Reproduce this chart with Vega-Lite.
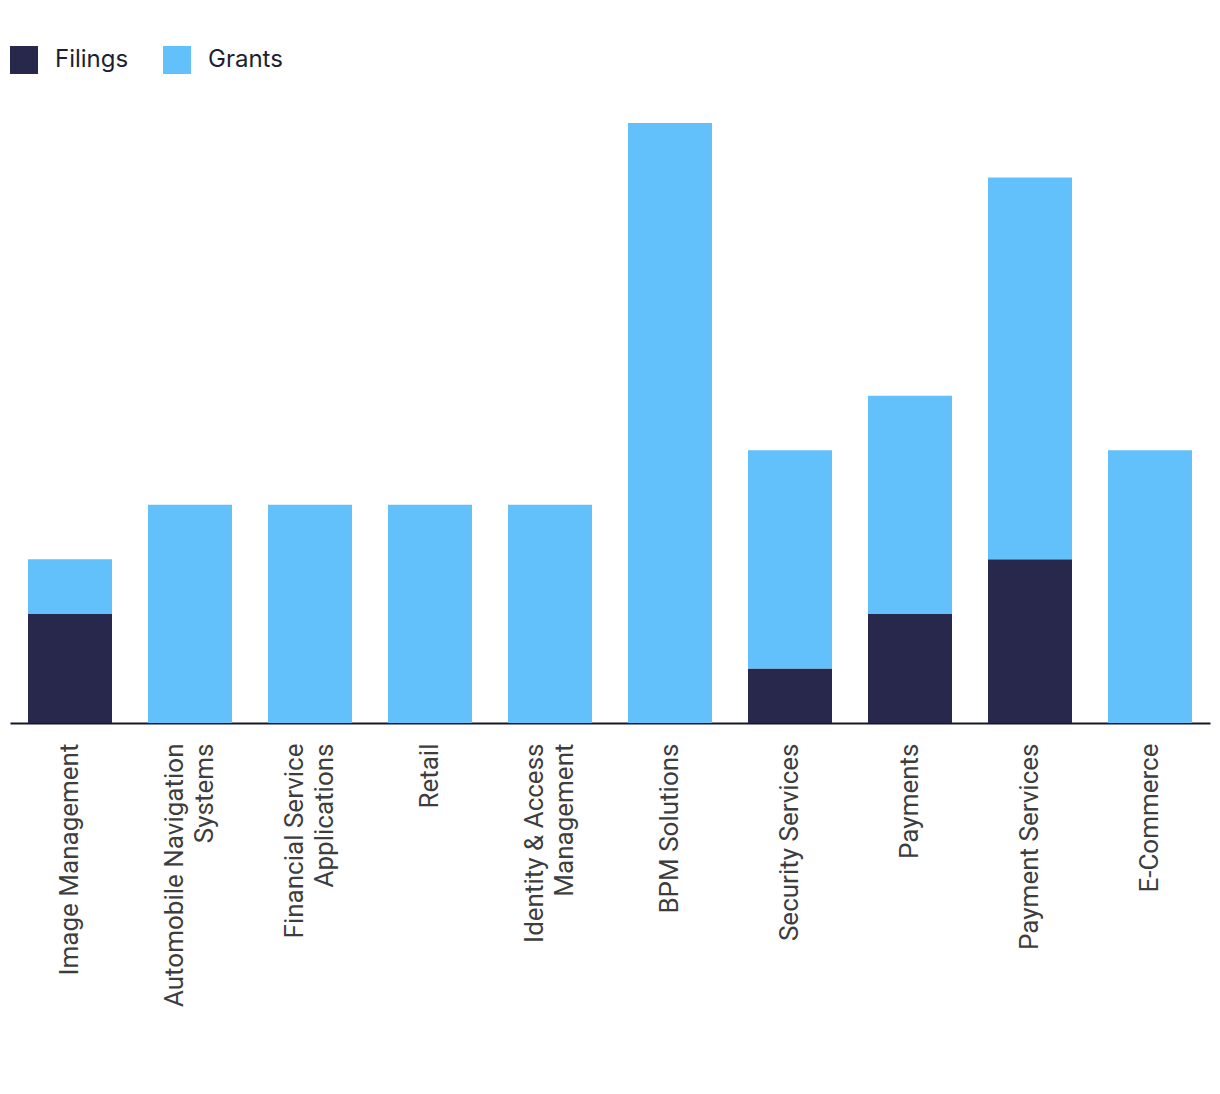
{
  "$schema": "https://vega.github.io/schema/vega-lite/v6.json",
  "width": 1200,
  "height": 600,
  "autosize": {"type": "none"},
  "padding": {"left": 10, "top": 123, "right": 10, "bottom": 371},
  "background": "white",
  "config": {"view": {"stroke": null}},
  "data": {
    "values": [
      {"category": "Image Management", "type": "Filings", "count": 2, "order": 1},
      {"category": "Image Management", "type": "Grants", "count": 1, "order": 2},
      {"category": "Automobile Navigation Systems", "type": "Filings", "count": 0, "order": 1},
      {"category": "Automobile Navigation Systems", "type": "Grants", "count": 4, "order": 2},
      {"category": "Financial Service Applications", "type": "Filings", "count": 0, "order": 1},
      {"category": "Financial Service Applications", "type": "Grants", "count": 4, "order": 2},
      {"category": "Retail", "type": "Filings", "count": 0, "order": 1},
      {"category": "Retail", "type": "Grants", "count": 4, "order": 2},
      {"category": "Identity & Access Management", "type": "Filings", "count": 0, "order": 1},
      {"category": "Identity & Access Management", "type": "Grants", "count": 4, "order": 2},
      {"category": "BPM Solutions", "type": "Filings", "count": 0, "order": 1},
      {"category": "BPM Solutions", "type": "Grants", "count": 11, "order": 2},
      {"category": "Security Services", "type": "Filings", "count": 1, "order": 1},
      {"category": "Security Services", "type": "Grants", "count": 4, "order": 2},
      {"category": "Payments", "type": "Filings", "count": 2, "order": 1},
      {"category": "Payments", "type": "Grants", "count": 4, "order": 2},
      {"category": "Payment Services", "type": "Filings", "count": 3, "order": 1},
      {"category": "Payment Services", "type": "Grants", "count": 7, "order": 2},
      {"category": "E-Commerce", "type": "Filings", "count": 0, "order": 1},
      {"category": "E-Commerce", "type": "Grants", "count": 5, "order": 2}
    ]
  },
  "mark": {"type": "bar"},
  "encoding": {
    "x": {
      "field": "category",
      "type": "nominal",
      "sort": null,
      "scale": {"paddingInner": 0.3, "paddingOuter": 0.15},
      "axis": {
        "title": null,
        "labelAngle": -90,
        "labelFont": "Roboto",
        "labelFontSize": 26,
        "labelColor": "#3d3d3d",
        "labelPadding": 20,
        "labelLineHeight": 30,
        "labelLimit": 0,
        "ticks": false,
        "tickSize": 0,
        "domainColor": "#16162b",
        "domainWidth": 2,
        "labelOffset": {
          "condition": {"test": "datum.value == 'Automobile Navigation Systems' || datum.value == 'Financial Service Applications' || datum.value == 'Identity & Access Management'", "value": -15},
          "value": 0
        },
        "labelExpr": "datum.label == 'Automobile Navigation Systems' ? ['Automobile Navigation', 'Systems'] : datum.label == 'Financial Service Applications' ? ['Financial Service', 'Applications'] : datum.label == 'Identity & Access Management' ? ['Identity & Access', 'Management'] : datum.label"
      }
    },
    "y": {
      "field": "count",
      "type": "quantitative",
      "stack": "zero",
      "scale": {"domain": [0, 11], "nice": false},
      "axis": null
    },
    "color": {
      "field": "type",
      "type": "nominal",
      "scale": {"domain": ["Filings", "Grants"], "range": ["#27284b", "#62c1fa"]},
      "legend": {
        "title": null,
        "orient": "none",
        "legendX": 0,
        "legendY": -77,
        "direction": "horizontal",
        "symbolType": "square",
        "symbolSize": 784,
        "symbolStrokeWidth": 0,
        "symbolOpacity": 1,
        "labelFont": "Inter",
        "labelFontSize": 24,
        "labelColor": "#1e1e32",
        "labelOffset": 17,
        "columnPadding": 34
      }
    },
    "order": {"field": "order", "type": "quantitative"}
  }
}
